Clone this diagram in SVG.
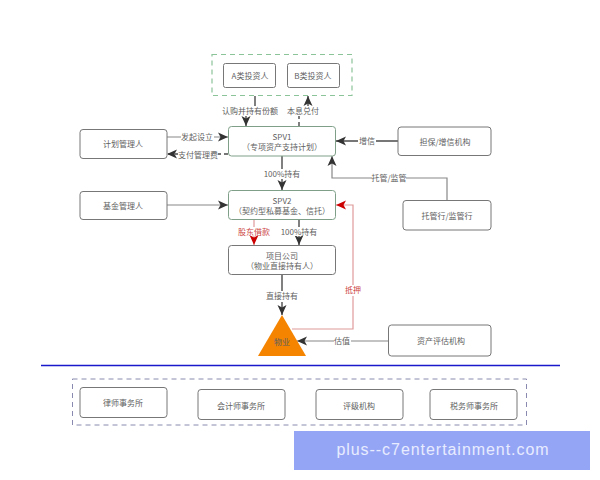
<svg xmlns="http://www.w3.org/2000/svg" width="600" height="480" viewBox="0 0 600 480">
<style>
text{font-family:"Noto Sans CJK SC","Liberation Sans",sans-serif;font-size:8px;fill:#5f5f5f;text-anchor:middle}
.b{fill:#fff;stroke:#777;stroke-width:1}
.g{fill:#fff;stroke:#7f9f88;stroke-width:1}
.c{fill:none;stroke:#4a4a4a;stroke-width:1.4}
.t{fill:none;stroke:#888;stroke-width:1.2}
.l{fill:#fff;stroke:none}
.r{fill:none;stroke:#e09a9a;stroke-width:1.2}
.red{fill:#c44}
</style>
<defs>
<marker id="a" markerWidth="11" markerHeight="10" refX="10" refY="5" orient="auto" markerUnits="userSpaceOnUse"><path d="M0 0.500L10 5L0 9.500L2.500 5Z" fill="#333"/></marker>
<marker id="ar" markerWidth="11" markerHeight="10" refX="10" refY="5" orient="auto" markerUnits="userSpaceOnUse"><path d="M0 0.500L10 5L0 9.500L2.500 5Z" fill="#c00"/></marker>
</defs>
<rect width="600" height="480" fill="#fff"/>
<g id="connectors">
<path class="c" d="M255 96V111H246V126" marker-end="url(#a)"/>
<path class="c" d="M299 126V111H308V96" stroke-dasharray="4 3" marker-end="url(#a)"/>
<path class="t" d="M167 137H228" marker-end="url(#a)"/>
<path class="c" d="M228 154H167" stroke-dasharray="4 3" marker-end="url(#a)"/>
<path class="c" d="M282 156V190" marker-end="url(#a)"/>
<path class="t" d="M167 205H228" marker-end="url(#a)"/>
<path class="c" d="M398 141H336" marker-end="url(#a)"/>
<path class="t" d="M447 200V178H332V156" marker-end="url(#a)"/>
<path class="r" d="M254 219V245" marker-end="url(#ar)"/>
<path class="c" d="M299 219V245" marker-end="url(#a)"/>
<path class="c" d="M282 274V315" marker-end="url(#a)"/>
<path class="r" d="M292 329H353V205H336" marker-end="url(#ar)"/>
<path class="t" d="M388 341H297" marker-end="url(#a)"/>
<path d="M41 365.500H560" stroke="#1a1acc" stroke-width="1.400" fill="none"/>
</g>
<g id="investors">
<rect x="212" y="54.500" width="140" height="41" fill="none" stroke="#8cc49a" stroke-dasharray="5 4" stroke-width="1.200"/>
<rect class="b" x="223.500" y="63.500" width="52" height="24" rx="2"/><text x="250" y="78.500">A类投资人</text>
<rect class="b" x="287.500" y="63.500" width="52" height="24" rx="2"/><text x="313" y="78.500">B类投资人</text>
</g>
<g id="spv1"><rect class="g" x="228.500" y="126.500" width="107" height="29.500" rx="3"/><text x="282" y="140">SPV1</text><text x="282" y="150">（专项资产支持计划）</text></g>
<g id="plan"><rect class="b" x="80" y="129.500" width="87" height="29" rx="3"/><text x="123" y="147">计划管理人</text></g>
<g id="fund"><rect class="b" x="80" y="191.500" width="87" height="28" rx="3"/><text x="123" y="209">基金管理人</text></g>
<g id="spv2"><rect class="g" x="228.500" y="190.500" width="107" height="29" rx="3"/><text x="282" y="204">SPV2</text><text x="282" y="214">（契约型私募基金、信托）</text></g>
<g id="project"><rect class="b" x="228.500" y="245.500" width="107" height="29" rx="3"/><text x="282" y="259">项目公司</text><text x="282" y="269">（物业直接持有人）</text></g>
<g id="property"><path d="M282 315L306 356H258Z" fill="#f58400"/><text x="282" y="345">物业</text></g>
<g id="guarantee"><rect class="b" x="398" y="127" width="93" height="28.500" rx="3"/><text x="445" y="145">担保/增信机构</text></g>
<g id="custody"><rect class="b" x="403" y="200.500" width="88" height="29.500" rx="3"/><text x="447" y="219">托管行/监管行</text></g>
<g id="valuation"><rect class="b" x="388.500" y="325" width="102.500" height="31" rx="3"/><text x="441" y="344">资产评估机构</text></g>
<g id="agencies">
<rect x="72.500" y="379" width="454" height="46" fill="none" stroke="#8a8ab0" stroke-dasharray="5 4"/>
<rect class="b" x="80" y="387.500" width="87" height="30" rx="3"/><text x="123" y="406">律师事务所</text>
<rect class="b" x="198" y="389.500" width="87" height="30" rx="3"/><text x="241" y="409">会计师事务所</text>
<rect class="b" x="316" y="389.500" width="87" height="30" rx="3"/><text x="359" y="409">评级机构</text>
<rect class="b" x="430" y="389.500" width="87" height="30" rx="3"/><text x="474" y="409">税务师事务所</text>
</g>
<g id="labels">
<rect class="l" x="222" y="106" width="56" height="10"/><text x="250" y="114">认购并持有份额</text>
<rect class="l" x="287" y="106" width="32" height="10"/><text x="303" y="114">本息兑付</text>
<rect class="l" x="181" y="132" width="33" height="11"/><text x="197" y="140">发起设立</text>
<rect class="l" x="178" y="149" width="40" height="11"/><text x="198" y="158">支付管理费</text>
<rect class="l" x="263" y="169" width="39" height="10"/><text x="282" y="177">100%持有</text>
<rect class="l" x="358" y="136" width="18" height="11"/><text x="367" y="144">增信</text>
<rect class="l" x="372" y="173" width="34" height="11"/><text x="389" y="181">托管/监管</text>
<rect class="l" x="238" y="227" width="32" height="9"/><text class="red" x="254" y="235">股东借款</text>
<rect class="l" x="280" y="227" width="38" height="9"/><text x="299" y="235">100%持有</text>
<rect class="l" x="266" y="291" width="32" height="11"/><text x="282" y="299">直接持有</text>
<rect class="l" x="345" y="285" width="16" height="11"/><text class="red" x="353" y="293">抵押</text>
<rect class="l" x="334" y="336" width="17" height="11"/><text x="342" y="344">估值</text>
</g>
<g id="watermark"><rect x="294" y="431" width="296" height="39" fill="#95a5f5"/><text x="443" y="455" style="font-family:'Liberation Sans',sans-serif;font-size:16px;fill:#e8ecff;letter-spacing:.95px">plus--c7entertainment.com</text></g>
</svg>
